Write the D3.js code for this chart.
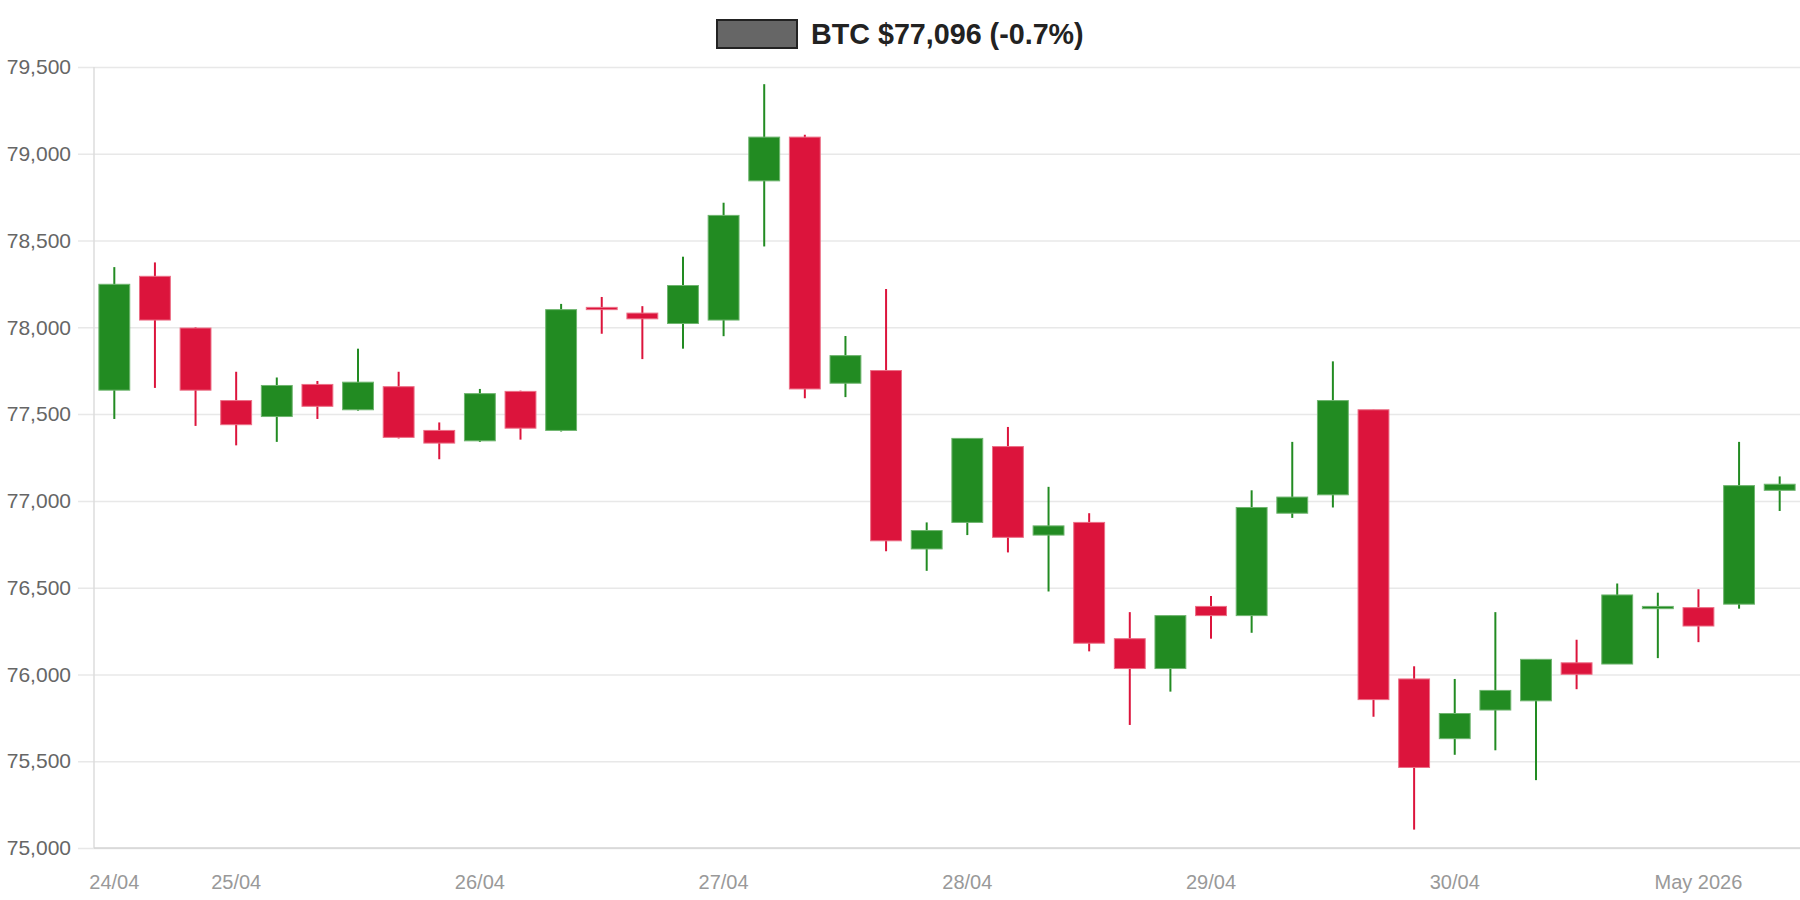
<!DOCTYPE html>
<html>
<head>
<meta charset="utf-8">
<script src="https://cdn.jsdelivr.net/npm/d3@7"></script>
<style>
  body { margin: 0; background: #fff; }
  svg { display: block; font-family: "Liberation Sans", Arial, sans-serif; }
</style>
</head>
<body>
<div id="chart"></div>
<script>
// 4h candles, 24/04 12:00 -> 01/05 08:00
var openVals  = [77638, 78294, 77996, 77578, 77486, 77671, 77525, 77658, 77406, 77346,
                 77631, 77406, 78115, 78082, 78022, 78042, 78844, 79096, 77678, 77751,
                 76723, 76876, 77313, 76803, 76876, 76206, 76034, 76392, 76339, 76929,
                 77035, 77525, 75974, 75630, 75795, 75848, 76067, 76060, 76379, 76385,
                 76405, 77061];
var highVals  = [78347, 78374, 78000, 77744, 77711, 77691, 77877, 77744, 77452, 77645,
                 77635, 78135, 78175, 78122, 78407, 78718, 79401, 79109, 77950, 78221,
                 76876, 77360, 77426, 77081, 76929, 76359, 76339, 76452, 77061, 77340,
                 77804, 77525, 76047, 75974, 76359, 76087, 76200, 76524, 76471, 76491,
                 77340, 77141];
var lowVals   = [77472, 77651, 77432, 77320, 77340, 77472, 77520, 77360, 77240, 77340,
                 77353, 77400, 77963, 77817, 77877, 77949, 78466, 77592, 77598, 76710,
                 76597, 76803, 76703, 76478, 76133, 75709, 75901, 76206, 76240, 76902,
                 76962, 75756, 75106, 75537, 75563, 75391, 75915, 76060, 76094, 76186,
                 76379, 76942];
var closeVals = [78248, 78042, 77638, 77439, 77665, 77545, 77684, 77366, 77333, 77618,
                 77419, 78102, 78102, 78049, 78241, 78645, 79096, 77645, 77837, 76770,
                 76829, 77360, 76790, 76856, 76180, 76034, 76339, 76339, 76962, 77022,
                 77578, 75855, 75464, 75775, 75908, 76087, 76001, 76458, 76392, 76279,
                 77088, 77096];
// x tick labels: candle index -> label
var tickIdx    = [0, 3, 9, 15, 21, 27, 33, 39];
var tickLabels = ["24/04", "25/04", "26/04", "27/04", "28/04", "29/04", "30/04", "May 2026"];
var legendText = "BTC $77,096 (-0.7%)";

var W = 1800, H = 900;
var margin = {top: 67, right: 0, bottom: 52, left: 94};

var data = openVals.map(function(o, i) {
  return {i: i, o: o, h: highVals[i], l: lowVals[i], c: closeVals[i]};
});

var svg = d3.select("#chart").append("svg")
  .attr("width", W)
  .attr("height", H);

var x = d3.scaleBand()
  .domain(d3.range(data.length))
  .range([margin.left, W - margin.right])
  .padding(0);

var y = d3.scaleLinear()
  .domain([75000, 79500])
  .range([H - margin.bottom, margin.top]);

// y grid + labels
var yAxis = d3.axisLeft(y)
  .tickValues(d3.range(75000, 79501, 500))
  .tickFormat(d3.format(","))
  .tickSize(-(W - margin.right - margin.left + 16))
  .tickPadding(7);

var gy = svg.append("g")
  .attr("transform", "translate(" + (margin.left - 16) + ",0)")
  .call(yAxis);
gy.select(".domain").remove();
gy.selectAll(".tick line").attr("stroke", "#e8e8e8").attr("stroke-width", 1.5);
gy.selectAll(".tick text")
  .attr("fill", "#666")
  .style("font-size", "21px");

// left + bottom axis lines
svg.append("line")
  .attr("x1", margin.left).attr("x2", margin.left)
  .attr("y1", margin.top).attr("y2", H - margin.bottom)
  .attr("stroke", "#ddd").attr("stroke-width", 1.5);
svg.append("line")
  .attr("x1", margin.left).attr("x2", W)
  .attr("y1", H - margin.bottom).attr("y2", H - margin.bottom)
  .attr("stroke", "#d4d4d4").attr("stroke-width", 1.5);

// x labels
var xAxis = d3.axisBottom(x)
  .tickValues(tickIdx)
  .tickFormat(function(d, k) { return tickLabels[k]; })
  .tickSize(0)
  .tickPadding(27);
var gx = svg.append("g")
  .attr("transform", "translate(0," + (H - margin.bottom) + ")")
  .call(xAxis);
gx.select(".domain").remove();
gx.selectAll(".tick text")
  .attr("fill", "#999")
  .style("font-size", "20px");

// candles
var green = "#228b22", red = "#dc143c";
var bw = x.bandwidth() * 0.76;

var candle = svg.append("g").selectAll("g")
  .data(data)
  .enter().append("g");

candle.append("line")
  .attr("x1", function(d) { return x(d.i) + x.bandwidth() / 2; })
  .attr("x2", function(d) { return x(d.i) + x.bandwidth() / 2; })
  .attr("y1", function(d) { return y(d.h); })
  .attr("y2", function(d) { return y(d.l); })
  .attr("stroke", function(d) { return d.c >= d.o ? green : red; })
  .attr("stroke-width", 2);

candle.append("rect")
  .attr("x", function(d) { return x(d.i) + (x.bandwidth() - bw) / 2; })
  .attr("width", bw)
  .attr("y", function(d) { return y(Math.max(d.o, d.c)); })
  .attr("height", function(d) { return Math.max(2, Math.abs(y(d.o) - y(d.c))); })
  .attr("fill", function(d) { return d.c >= d.o ? green : red; })
  .attr("stroke", function(d) { return d.c >= d.o ? "#6fb56f" : "#ec6f86"; })
  .attr("stroke-width", 1);

// legend
var lg = svg.append("g");
lg.append("rect")
  .attr("x", 717).attr("y", 20)
  .attr("width", 80).attr("height", 28)
  .attr("fill", "#666")
  .attr("stroke", "#222")
  .attr("stroke-width", 2);
lg.append("text")
  .attr("x", 811)
  .attr("y", 44)
  .attr("fill", "#222")
  .style("font-size", "28.7px")
  .style("font-weight", "bold")
  .text(legendText);
</script>
</body>
</html>
